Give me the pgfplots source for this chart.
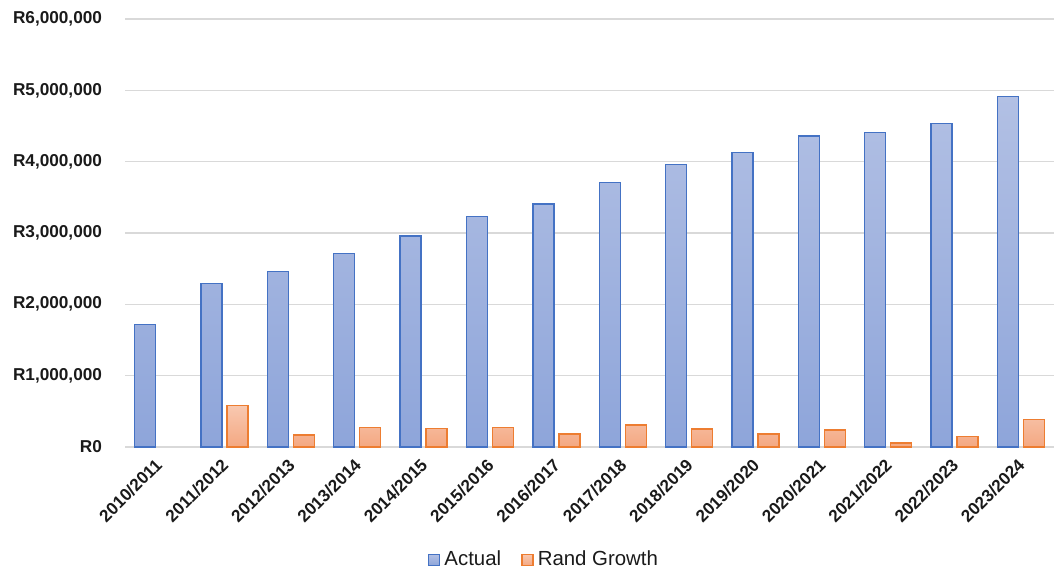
\documentclass[border=0pt]{standalone}
\usepackage{pgfplots}
\pgfplotsset{compat=1.18}
\usepackage{fontspec}
\setmainfont{Liberation Sans}
\definecolor{bluetop}{HTML}{B2C0E4}
\definecolor{bluebot}{HTML}{8EA5DA}
\definecolor{blueedge}{HTML}{4472C4}
\definecolor{ortop}{HTML}{F8C8B0}
\definecolor{orbot}{HTML}{F4A882}
\definecolor{oredge}{HTML}{ED7D31}
\definecolor{gridc}{HTML}{D9D9D9}
\definecolor{txt}{HTML}{1A1A1A}
\begin{document}
\begin{tikzpicture}
\begin{axis}[
  scale only axis,
  width=464.5pt, height=214pt,
  ybar=2.5pt, bar width=10.5pt,
  xmin=-0.5, xmax=13.5,
  ymin=0, ymax=6000000,
  xtick={0,...,13},
  xticklabels={2010/2011,2011/2012,2012/2013,2013/2014,2014/2015,2015/2016,2016/2017,2017/2018,2018/2019,2019/2020,2020/2021,2021/2022,2022/2023,2023/2024},
  ytick={0,1000000,2000000,3000000,4000000,5000000,6000000},
  yticklabels={R0,{R1,000,000},{R2,000,000},{R3,000,000},{R4,000,000},{R5,000,000},{R6,000,000}},
  scaled y ticks=false,
  major tick length=0pt,
  ymajorgrids, grid style={gridc, line width=0.8pt},
  axis y line*=left,
  y axis line style={draw=none},
  axis x line*=bottom,
  x axis line style={gridc, line width=0.8pt, -},
  xticklabel style={xshift=2.8pt, yshift=-5pt, rotate=45, anchor=east, font=\fontsize{8.6}{10}\selectfont\bfseries, text=txt},
  yticklabel style={font=\fontsize{8.6}{10}\selectfont\bfseries, text=txt, xshift=-8pt},
  legend style={draw=none, at={(axis description cs:0.452,-0.264)}, anchor=center, font=\fontsize{10.2}{12}\selectfont, text=txt, /tikz/every even column/.append style={column sep=8pt}},
  legend columns=2,
  legend image code/.code={\draw[#1] (0pt,-2.8pt) rectangle (5.6pt,2.8pt);},
  clip=false,
]
\addplot[draw=blueedge, line width=0.7pt, top color=bluetop, bottom color=bluebot] coordinates {
(0,1715000) (1,2289000) (2,2458000) (3,2710000) (4,2958000) (5,3229000) (6,3407000)
(7,3711000) (8,3963000) (9,4126000) (10,4360000) (11,4412000) (12,4538000) (13,4916000)};
\addplot[draw=oredge, line width=0.7pt, top color=ortop, bottom color=orbot] coordinates {
(1,580000) (2,168000) (3,276000) (4,258000) (5,276000) (6,182000)
(7,308000) (8,252000) (9,182000) (10,238000) (11,56000) (12,150000) (13,384000)};
\legend{Actual, Rand Growth}
\coordinate (bl) at (axis description cs:-0.1346,-0.2967);
\coordinate (tr) at (axis description cs:1.0,1.0444);
\end{axis}
\pgfresetboundingbox
\path (bl) rectangle (tr);
\end{tikzpicture}
\end{document}
